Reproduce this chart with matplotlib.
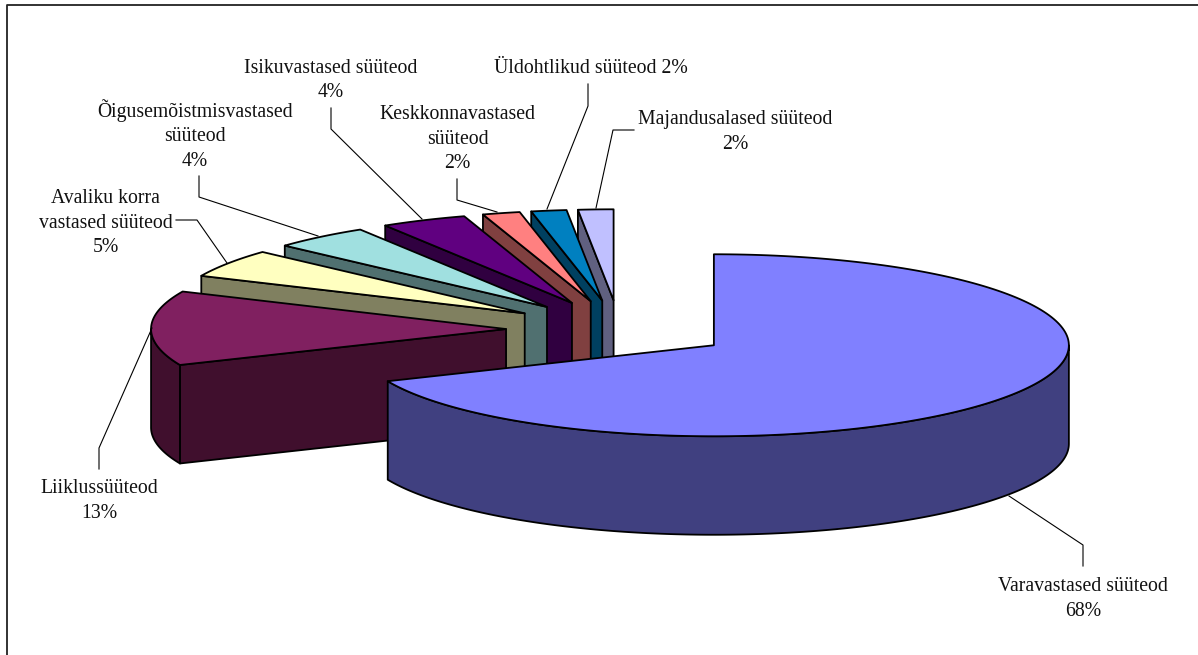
# 3D-looking exploded pie of crime types, drawn by hand because matplotlib pie has no depth
import numpy as np
import matplotlib
matplotlib.use('Agg')
import matplotlib.pyplot as plt
from matplotlib.patches import Polygon

plt.rcParams['font.family'] = ['Liberation Serif', 'DejaVu Serif']

# shares, the labels show them rounded
names = ['Varavastased süüteod', 'Liiklussüüteod', 'Avaliku korra\nvastased süüteod',
         'Õigusemõistmisvastased\nsüüteod', 'Isikuvastased süüteod', 'Keskkonnavastased\nsüüteod',
         'Üldohtlikud süüteod', 'Majandusalased süüteod']
shares = [68.4, 13.2, 5.0, 4.4, 3.9, 1.7, 1.6, 1.6]
top_colors = ['#8080FF', '#802060', '#FFFFC0', '#A0E0E0', '#600080', '#FF8080', '#0080C0', '#C0C0FF']
side_colors = ['#404080', '#400F2D', '#808060', '#507070', '#300040', '#804040', '#004060', '#606080']

# layout in pixels
cx, cy = 619.3, 329.3
rx, ry = 355.0, 91.0
depth = 98.5
explode = 0.319

label_pos = [(1083, 599), (99, 501), (105.5, 223), (195, 135), (331, 80.5), (457.5, 139), (590.5, 68.5), (735, 132)]
leaders = [[(1009, 496), (1083, 545), (1083, 566)],
           [(152, 328), (99, 448), (99, 469)],
           [(227, 263), (197, 220), (176, 220)],
           [(318, 236), (199, 197), (199, 176)],
           [(422, 219), (331, 129), (331, 108)],
           [(497, 212), (457, 200), (457, 179)],
           [(547, 209), (588, 106), (588, 84)],
           [(596, 208), (613, 130), (634, 130)]]

fig = plt.figure(figsize=(11.98, 6.55), dpi=100)
ax = fig.add_axes([0, 0, 1, 1])
ax.set_xlim(0, 1198)
ax.set_ylim(655, 0)
ax.axis('off')


def ell(x0, y0, a):
    # angle a in degrees, clockwise from the top of the pie
    a = np.radians(a)
    return np.column_stack([x0 + rx*np.sin(a), y0 - ry*np.cos(a)])


total = sum(shares)
edges = np.concatenate([[0], np.cumsum(shares)]) / total * 360

# back slices first, biggest slice last because it sits in front
for i in list(range(1, len(shares)))[::-1] + [0]:
    a0, a1 = edges[i], edges[i+1]
    mid = np.radians((a0+a1)/2)
    x0 = cx + explode*rx*np.sin(mid)
    y0 = cy - explode*ry*np.cos(mid)
    arc = ell(x0, y0, np.linspace(a0, a1, 200))
    down = np.array([0, depth])

    # cut face on the starting edge (only shows on the left half)
    if i > 0:
        face = np.array([[x0, y0], arc[0], arc[0]+down, [x0, y0+depth]])
        ax.add_patch(Polygon(face, fc=side_colors[i], ec='black', lw=1.3, joinstyle='round'))

    # outer wall, only the part facing the viewer
    front = np.linspace(max(a0, 90), min(a1, 270), 200) if a1 > 90 and a0 < 270 else None
    if front is not None:
        pts = ell(x0, y0, front)
        wall = np.vstack([pts, (pts+down)[::-1]])
        ax.add_patch(Polygon(wall, fc=side_colors[i], ec='black', lw=1.3, joinstyle='round'))

    top = np.vstack([[x0, y0], arc])
    ax.add_patch(Polygon(top, fc=top_colors[i], ec='black', lw=1.3, joinstyle='round'))

for name, share, pos, pts in zip(names, shares, label_pos, leaders):
    if name.startswith('Üld'):
        txt = '{0} {1:.0f}%'.format(name, share)
    else:
        txt = '{0}\n{1:.0f}%'.format(name, share)
    ax.text(pos[0], pos[1], txt, ha='center', va='center', fontsize=14.2, linespacing=1.37, color='#111111')
    ax.plot([p[0] for p in pts], [p[1] for p in pts], color='black', lw=0.8)

# chart frame: left and top lines only, it runs off the image on the other sides
ax.plot([7, 7, 1198], [655, 5, 5], color='#222222', lw=1.3)

fig.savefig('out.png', dpi=100)
